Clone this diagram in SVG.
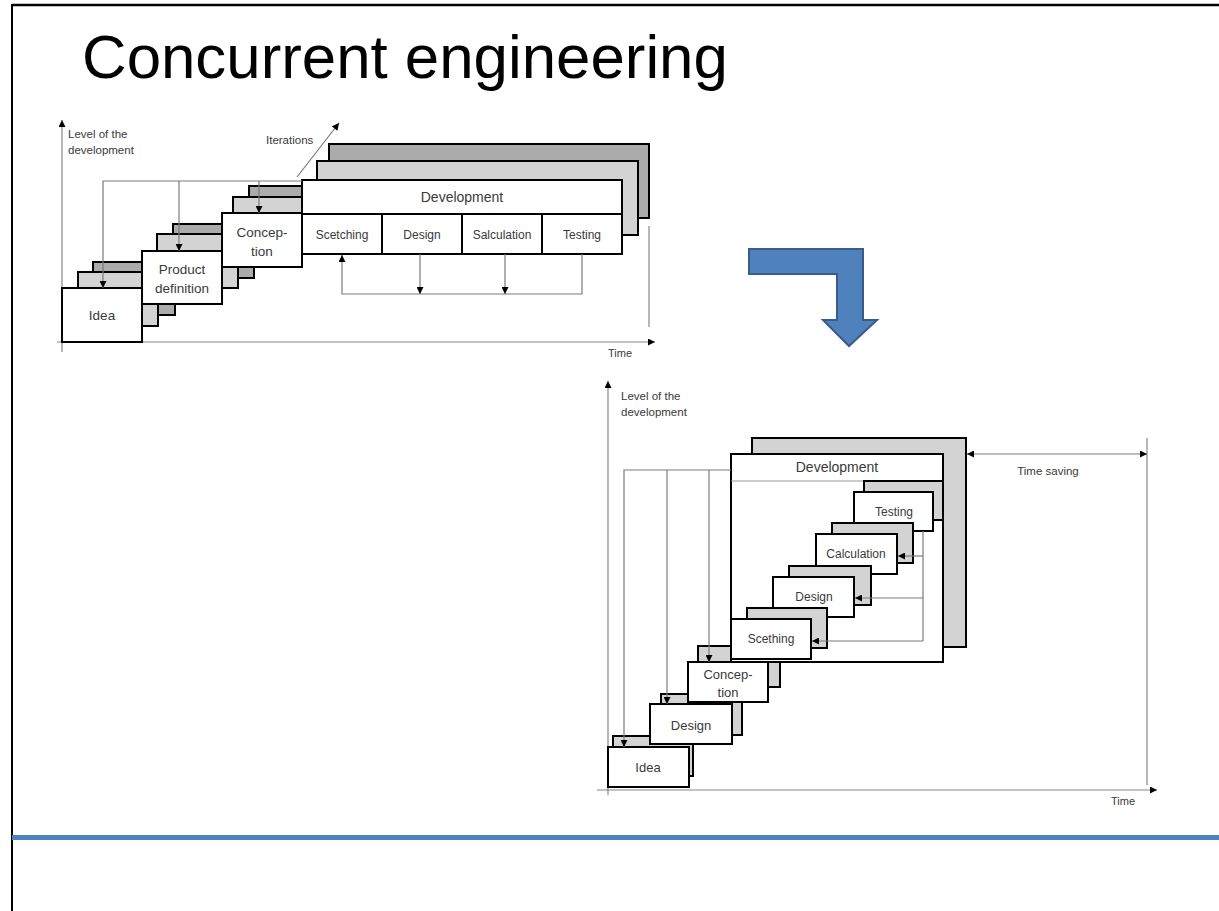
<svg xmlns="http://www.w3.org/2000/svg" width="1219" height="911" viewBox="0 0 1219 911">
<style>
.t{font-family:"Liberation Sans",Arial,sans-serif;fill:#3a3a3a;text-anchor:middle}
.tl{font-family:"Liberation Sans",Arial,sans-serif;fill:#3a3a3a}
.box{fill:#fff;stroke:#000;stroke-width:2}
.sh1{fill:#d3d3d3;stroke:#000;stroke-width:2}
.sh2{fill:#ababab;stroke:#000;stroke-width:2}
.ln{stroke:#7a7a7a;stroke-width:1.2;fill:none}
.ax{stroke:#888;stroke-width:1.2;fill:none}
</style>
<defs>
<marker id="ah" viewBox="0 0 10 10" refX="10" refY="5" markerWidth="8" markerHeight="7" markerUnits="userSpaceOnUse" orient="auto-start-reverse"><path d="M0,0 L10,5 L0,10 z" fill="#000"/></marker>
</defs>
<rect width="1219" height="911" fill="#fff"/>
<g id="frame">
<line x1="12" y1="5" x2="1219" y2="5" stroke="#000" stroke-width="2.5"/>
<line x1="12" y1="4" x2="12" y2="911" stroke="#000" stroke-width="2"/>
<rect x="12" y="835" width="1207" height="5" fill="#4F81BD"/>
</g>
<g id="title"><text x="82" y="78" font-family="Liberation Sans,Arial,sans-serif" font-size="61.8" fill="#000">Concurrent engineering</text></g>

<!-- Top diagram -->
<g id="top-axes">
<line class="ax" x1="62" y1="352" x2="62" y2="120" marker-end="url(#ah)"/>
<line class="ax" x1="57" y1="342" x2="655" y2="342" marker-end="url(#ah)"/>
<text class="tl" x="68" y="138" font-size="11.5">Level of the</text>
<text class="tl" x="68" y="154" font-size="11.5">development</text>
<text class="t" x="620" y="357" font-size="11">Time</text>
<line class="ax" x1="649" y1="226" x2="649" y2="327"/>
</g>
<g id="top-idea">
<rect class="sh2" x="93" y="262" width="82" height="53"/>
<rect class="sh1" x="78" y="272" width="80" height="54"/>
<rect class="box" x="62" y="288" width="80" height="54"/>
<text class="t" x="102" y="320" font-size="13.5">Idea</text>
</g>
<g id="top-product">
<rect class="sh2" x="173" y="224" width="81" height="54"/>
<rect class="sh1" x="157" y="234" width="81" height="54"/>
<rect class="box" x="142" y="251" width="80" height="53"/>
<text class="t" x="182" y="274" font-size="13.5">Product</text>
<text class="t" x="182" y="293" font-size="13.5">definition</text>
</g>
<g id="top-conception">
<rect class="sh2" x="249" y="186" width="80" height="54"/>
<rect class="sh1" x="233" y="197" width="80" height="54"/>
<rect class="box" x="222" y="213" width="80" height="54"/>
<text class="t" x="262" y="237" font-size="13.5">Concep-</text>
<text class="t" x="262" y="256" font-size="13.5">tion</text>
</g>
<g id="top-development">
<rect class="sh2" x="329" y="144" width="320" height="74"/>
<rect class="sh1" x="317" y="161" width="321" height="74"/>
<rect class="box" x="302" y="180" width="320" height="74"/>
<line x1="302" y1="214" x2="622" y2="214" stroke="#000" stroke-width="2"/>
<line x1="382" y1="214" x2="382" y2="254" stroke="#000" stroke-width="2"/>
<line x1="462" y1="214" x2="462" y2="254" stroke="#000" stroke-width="2"/>
<line x1="542" y1="214" x2="542" y2="254" stroke="#000" stroke-width="2"/>
<text class="t" x="462" y="202" font-size="14">Development</text>
<text class="t" x="342" y="239" font-size="12">Scetching</text>
<text class="t" x="422" y="239" font-size="12">Design</text>
<text class="t" x="502" y="239" font-size="12">Salculation</text>
<text class="t" x="582" y="239" font-size="12">Testing</text>
<text class="tl" x="266" y="144" font-size="11.5">Iterations</text>
</g>
<g id="top-connectors">
<polyline class="ln" points="302,181 103,181 103,288" marker-end="url(#ah)"/>
<line class="ln" x1="179" y1="181" x2="179" y2="251" marker-end="url(#ah)"/>
<line class="ln" x1="259" y1="181" x2="259" y2="213" marker-end="url(#ah)"/>
<line class="ln" x1="297" y1="177" x2="339" y2="123" marker-end="url(#ah)"/>
<polyline class="ln" points="582,254 582,294 342,294 342,255" marker-end="url(#ah)"/>
<line class="ln" x1="420" y1="254" x2="420" y2="294" marker-end="url(#ah)"/>
<line class="ln" x1="505" y1="254" x2="505" y2="294" marker-end="url(#ah)"/>
</g>

<g id="blue-arrow">
<path d="M749,249 L863,249 L863,320 L877,320 L849,346 L823,320 L837,320 L837,274 L749,274 Z" fill="#4F81BD" stroke="#385D8A" stroke-width="2"/>
</g>

<!-- Bottom diagram -->
<g id="bot-axes">
<line class="ax" x1="608" y1="795" x2="608" y2="381" marker-end="url(#ah)"/>
<line class="ax" x1="597" y1="790" x2="1157" y2="790" marker-end="url(#ah)"/>
<text class="tl" x="621" y="400" font-size="11.5">Level of the</text>
<text class="tl" x="621" y="416" font-size="11.5">development</text>
<text class="t" x="1123" y="805" font-size="11">Time</text>
<line class="ax" x1="1147" y1="438" x2="1147" y2="785"/>
<text class="t" x="1048" y="475" font-size="11.5">Time saving</text>
</g>
<g id="bot-shadows-outer">
<rect class="sh1" x="698" y="646" width="82" height="41"/>
<rect class="sh1" x="661" y="694" width="81" height="41"/>
<rect class="sh1" x="613" y="736" width="80" height="40"/>
</g>
<g id="bot-development">
<rect class="sh1" x="752" y="438" width="214" height="209"/>
<rect class="box" x="731" y="454" width="212" height="208"/>
<line x1="731" y1="481" x2="943" y2="481" stroke="#999" stroke-width="1.2"/>
<text class="t" x="837" y="472" font-size="14">Development</text>
</g>
<g id="bot-testing">
<rect class="sh1" x="864" y="481" width="79" height="39"/>
<rect class="box" x="854" y="492" width="79" height="39"/>
<text class="t" x="894" y="516" font-size="12">Testing</text>
</g>
<g id="bot-calculation">
<rect class="sh1" x="832" y="523" width="81" height="40"/>
<rect class="box" x="816" y="534" width="81" height="40"/>
<text class="t" x="856" y="558" font-size="12">Calculation</text>
</g>
<g id="bot-design-inner">
<rect class="sh1" x="789" y="566" width="82" height="39"/>
<rect class="box" x="773" y="577" width="81" height="40"/>
<text class="t" x="814" y="601" font-size="12">Design</text>
</g>
<g id="bot-scething">
<rect class="sh1" x="747" y="608" width="80" height="40"/>
<rect class="box" x="731" y="619" width="80" height="40"/>
<text class="t" x="771" y="643" font-size="12">Scething</text>
</g>
<g id="bot-conception">
<rect class="box" x="688" y="662" width="80" height="40"/>
<text class="t" x="728" y="679" font-size="13">Concep-</text>
<text class="t" x="728" y="697" font-size="13">tion</text>
</g>
<g id="bot-design">
<rect class="box" x="650" y="704" width="82" height="40"/>
<text class="t" x="691" y="730" font-size="13">Design</text>
</g>
<g id="bot-idea">
<rect class="box" x="608" y="747" width="81" height="40"/>
<text class="t" x="648" y="772" font-size="13">Idea</text>
</g>
<g id="bot-connectors">
<polyline class="ln" points="731,470 624,470 624,747" marker-end="url(#ah)"/>
<line class="ln" x1="667" y1="470" x2="667" y2="704" marker-end="url(#ah)"/>
<line class="ln" x1="709" y1="470" x2="709" y2="662" marker-end="url(#ah)"/>
<line class="ln" x1="923" y1="531" x2="923" y2="641"/>
<line class="ln" x1="923" y1="556" x2="898" y2="556" marker-end="url(#ah)"/>
<line class="ln" x1="923" y1="598" x2="855" y2="598" marker-end="url(#ah)"/>
<polyline class="ln" points="923,641 812,641" marker-end="url(#ah)"/>
<line class="ln" x1="967" y1="454" x2="1147" y2="454" marker-start="url(#ah)" marker-end="url(#ah)"/>
</g>
</svg>
